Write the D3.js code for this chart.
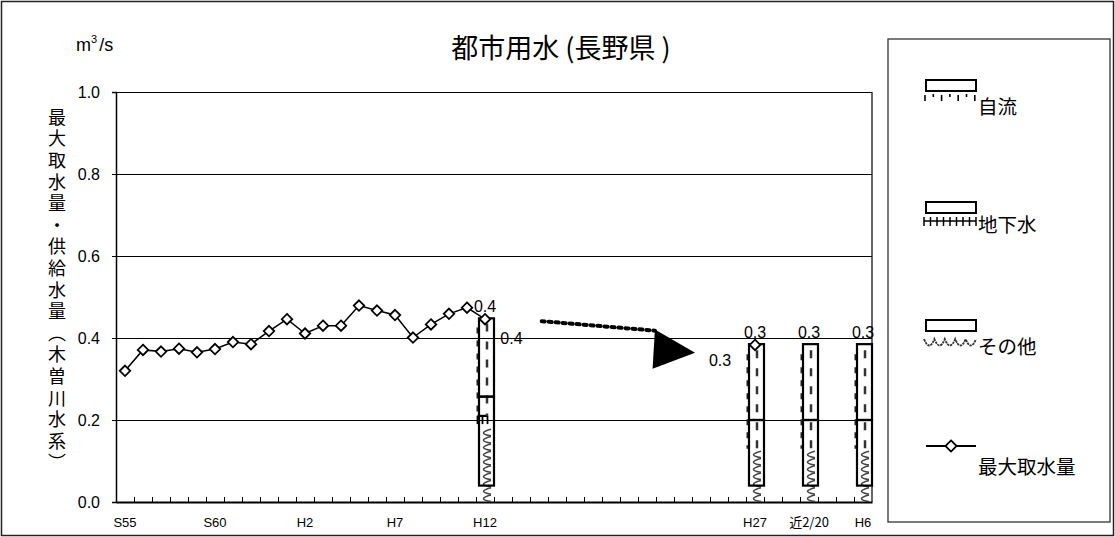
<!DOCTYPE html>
<html><head><meta charset="utf-8">
<script src="https://cdn.jsdelivr.net/npm/d3@7"></script>
<style>body{margin:0;background:#fff}</style>
</head><body><svg id="c" width="1115" height="537"></svg>
<script>
// ---------- DATA ----------
const categories = ["S55","S56","S57","S58","S59","S60","S61","S62","S63","H1","H2","H3","H4","H5","H6","H7","H8","H9","H10","H11","H12",
  "H13","H14","H15","H16","H17","H18","H19","H20","H21","H22","H23","H24","H25","H26","H27","_a","_b","近2/20","_c","_d","H6将来"];
const tickCats   = ["S55","S60","H2","H7","H12","H27","近2/20","H6将来"];
const tickLabels = ["S55","S60","H2","H7","H12","H27","近2/20","H6"];
const lineCats = ["S55","S56","S57","S58","S59","S60","S61","S62","S63","H1","H2","H3","H4","H5","H6","H7","H8","H9","H10","H11","H12"];
const maxIntake = [0.320,0.371,0.367,0.374,0.365,0.373,0.390,0.385,0.417,0.446,0.411,0.430,0.430,0.479,0.467,0.456,0.401,0.433,0.459,0.474,0.446];
const pointCats = ["H27"];
const pointVals = [0.383];
const barCats = ["H12","H27","近2/20","H6将来"];
const sonota = [0.19,0.13,0.13,0.13];     // その他
const chika  = [0.02,0.0,0.0,0.0];        // 地下水
const jiryu  = [0.24,0.255,0.255,0.255];  // 自流
const supplyBase  = [0.04,0.04,0.04,0.04];
const supplyLower = [0.217,0.16,0.16,0.16];
const supplyUpper = [0.191,0.185,0.185,0.185];
const barLabels = ["0.4","0.3","0.3","0.3"];
const yTicks = [0.0,0.2,0.4,0.6,0.8,1.0];
const arrowLine = [[23.15,0.441],[29.44,0.418]];
const arrowHead = [[29.44,0.421],[31.67,0.364],[29.31,0.325]];
const annoIdx  = [21.47,33.06];
const annoVals = [0.400,0.346];
const annoText = ["0.4","0.3"];
const yTitle = "最大取水量・供給水量（木曽川水系）";
const legendItems = ["自流","地下水","その他","最大取水量"];

// ---------- SETUP ----------
const JP = "'Noto Sans CJK JP','Noto Sans',sans-serif";
const NUM = "'Liberation Sans',Arial,sans-serif";
const svg = d3.select("#c");
const L = 116, R = 872, T = 92, B = 502;
const x = d3.scaleBand().domain(categories).range([L, R]).padding(0);
const xi = d3.scaleLinear().domain([-0.5, categories.length - 0.5]).range([L, R]);
const y = d3.scaleLinear().domain([0, 1]).range([B, T]);
const xc = c => x(c) + x.bandwidth() / 2;

// outer frame
svg.append("rect").attr("x",1.5).attr("y",1.5).attr("width",1112).attr("height",534)
  .attr("fill","none").attr("stroke","#222").attr("stroke-width",1.5);

// title
svg.append("text").attr("x",561).attr("y",58).attr("text-anchor","middle")
  .attr("font-family",JP).attr("font-size",27).text("都市用水 (長野県 )");

// unit
const u = svg.append("text").attr("x",76).attr("y",51).attr("font-family",NUM).attr("font-size",18);
u.append("tspan").text("m");
u.append("tspan").attr("dy",-8).attr("font-size",11).text("3");
u.append("tspan").attr("dy",8).attr("dx",2).text("/s");

// y title (vertical)
svg.append("text").attr("x",57).attr("y",108)
  .style("writing-mode","vertical-rl").style("letter-spacing","3.6px")
  .attr("font-family",JP).attr("font-size",18).text(yTitle);

// gridlines
svg.append("g").selectAll("line").data(yTicks.filter(v=>v>0)).join("line")
  .attr("x1",L).attr("x2",R).attr("y1",d=>y(d)+0.5).attr("y2",d=>y(d)+0.5)
  .attr("stroke","#000").attr("stroke-width",1);

// y axis
const ya = svg.append("g").attr("transform",`translate(${L},0)`)
  .call(d3.axisLeft(y).tickValues(yTicks).tickFormat(d3.format(".1f")).tickSize(4).tickPadding(12));
ya.select(".domain").attr("stroke","#000").attr("stroke-width",1.5);
ya.selectAll("text").attr("font-family",NUM).attr("font-size",16).attr("fill","#000");

// right frame of plot
svg.append("line").attr("x1",R).attr("x2",R).attr("y1",T).attr("y2",B).attr("stroke","#000").attr("stroke-width",1.2);

// x axis
const xa = svg.append("g").attr("transform",`translate(0,${B})`)
  .call(d3.axisBottom(x).tickValues(tickCats).tickFormat((d)=>tickLabels[tickCats.indexOf(d)]).tickSize(0).tickPadding(16));
xa.select(".domain").attr("stroke","#000").attr("stroke-width",2);
xa.selectAll("text").attr("font-family",(d)=>/近/.test(d)?JP:NUM).attr("font-size",13).attr("fill","#000");
// minor ticks at category boundaries (inside)
svg.append("g").selectAll("line").data(d3.range(1, categories.length)).join("line")
  .attr("x1",d=>Math.round(xi(d-0.5))+0.5).attr("x2",d=>Math.round(xi(d-0.5))+0.5).attr("y1",B).attr("y2",B-5)
  .attr("stroke","#000").attr("stroke-width",1);

// ---------- BARS ----------
const gb = svg.append("g");
barCats.forEach((c,i)=>{
  const cx = xc(c);
  const pl = cx - 7.5;
  // その他 chevrons
  const y0 = y(0), y1 = y(sonota[i]);
  for (let yy = y0 - 3; yy > y1 + 2; yy -= 7.3) {
    gb.append("path").attr("d",`M${cx+6},${yy-4} Q${cx-9},${yy} ${cx+6},${yy+2.5}`)
      .attr("fill","none").attr("stroke","#444").attr("stroke-width",1.6);
  }
  // 地下水
  if (chika[i] > 0) {
    const ya1 = y(sonota[i] + chika[i]), ya0 = y(sonota[i]);
    gb.append("line").attr("x1",pl).attr("x2",pl+10).attr("y1",ya1).attr("y2",ya1).attr("stroke","#000").attr("stroke-width",2.2);
    [pl, pl+5, pl+10].forEach(xx=>gb.append("line").attr("x1",xx).attr("x2",xx).attr("y1",ya1).attr("y2",ya0).attr("stroke","#000").attr("stroke-width",1.8));
  }
  // 自流
  const yj0 = y(sonota[i] + chika[i]), yj1 = y(sonota[i] + chika[i] + jiryu[i]);
  gb.append("line").attr("x1",cx+2).attr("x2",cx+2).attr("y1",yj1+6).attr("y2",yj0)
    .attr("stroke","#333").attr("stroke-width",2.5).attr("stroke-dasharray","8,10");
  gb.append("line").attr("x1",pl).attr("x2",pl).attr("y1",yj1+10).attr("y2",yj0)
    .attr("stroke","#222").attr("stroke-width",2).attr("stroke-dasharray","6,7");
  // outlines
  const ol = cx - 6;
  gb.append("rect").attr("x",ol).attr("width",15)
    .attr("y",y(supplyBase[i]+supplyLower[i])).attr("height",y(supplyBase[i])-y(supplyBase[i]+supplyLower[i]))
    .attr("fill","none").attr("stroke","#000").attr("stroke-width",2.2);
  gb.append("rect").attr("x",ol).attr("width",15)
    .attr("y",y(supplyBase[i]+supplyLower[i]+supplyUpper[i])).attr("height",y(supplyBase[i]+supplyLower[i])-y(supplyBase[i]+supplyLower[i]+supplyUpper[i]))
    .attr("fill","none").attr("stroke","#000").attr("stroke-width",2.2);
  // label
  const top = supplyBase[i]+supplyLower[i]+supplyUpper[i];
  svg.append("text").attr("x",cx).attr("y",y(top)-6).attr("text-anchor","middle")
    .attr("font-family",NUM).attr("font-size",16).text(barLabels[i]);
});

// ---------- LINE ----------
const line = d3.line().x((d,i)=>xc(lineCats[i])).y(d=>y(d));
svg.append("path").attr("d",line(maxIntake)).attr("fill","none").attr("stroke","#000").attr("stroke-width",1.5);
const diamond = d3.symbol().type(d3.symbolDiamond2).size(70);
const pts = lineCats.map((c,i)=>[xc(c),y(maxIntake[i])]).concat(pointCats.map((c,i)=>[xc(c),y(pointVals[i])]));
svg.append("g").selectAll("path").data(pts).join("path")
  .attr("d",diamond).attr("transform",d=>`translate(${d[0]},${d[1]})`)
  .attr("fill","#fff").attr("stroke","#000").attr("stroke-width",1.8);

// ---------- ARROW ----------
svg.append("path").attr("d",d3.line().x(d=>xi(d[0])).y(d=>y(d[1]))(arrowLine))
  .attr("fill","none").attr("stroke","#000").attr("stroke-width",4).attr("stroke-dasharray","3,4").attr("stroke-linecap","round");
svg.append("path").attr("d",d3.line().x(d=>xi(d[0])).y(d=>y(d[1]))(arrowHead)+"Z").attr("fill","#000");
annoText.forEach((t,i)=>svg.append("text").attr("x",xi(annoIdx[i])).attr("y",y(annoVals[i])).attr("dy","0.35em")
  .attr("text-anchor","middle").attr("font-family",NUM).attr("font-size",16).text(t));

// ---------- LEGEND ----------
const lg = svg.append("g");
lg.append("rect").attr("x",888).attr("y",39).attr("width",222).attr("height",483)
  .attr("fill","none").attr("stroke","#333").attr("stroke-width",1.3);
const lx = 926, lw = 50;
const rectY = [80, 202, 320];
rectY.forEach(ry=>lg.append("rect").attr("x",lx).attr("y",ry).attr("width",lw).attr("height",11)
  .attr("fill","#fff").attr("stroke","#000").attr("stroke-width",2));
// 自流 pattern
d3.range(0,7).forEach(k=>{
  const xx = lx - 1 + k*8.3;
  lg.append("line").attr("x1",xx).attr("x2",xx).attr("y1",k%2?94:95).attr("y2",k%2?97:101)
    .attr("stroke","#000").attr("stroke-width",1.6);
});
// 地下水 pattern
lg.append("line").attr("x1",lx-2).attr("x2",lx+lw).attr("y1",221).attr("y2",221).attr("stroke","#000").attr("stroke-width",1.5);
d3.range(0,9).forEach(k=>{
  const xx = lx - 2 + k*6.5;
  lg.append("line").attr("x1",xx).attr("x2",xx).attr("y1",217).attr("y2",226).attr("stroke","#000").attr("stroke-width",1.5);
});
// その他 wave
let wd = `M${lx-2},339`;
for (let k=0;k<5;k++){ const x0 = lx-2+k*10.4; wd += ` Q${x0+5.2},352 ${x0+10.4},339`; }
lg.append("path").attr("d",wd).attr("fill","none").attr("stroke","#333").attr("stroke-width",1.8).attr("stroke-dasharray","2.5,0.8");
// 最大取水量
lg.append("line").attr("x1",lx).attr("x2",lx+lw).attr("y1",446).attr("y2",446).attr("stroke","#000").attr("stroke-width",1.8);
lg.append("path").attr("d",d3.symbol().type(d3.symbolDiamond2).size(80)).attr("transform",`translate(${lx+25},446)`)
  .attr("fill","#fff").attr("stroke","#000").attr("stroke-width",1.8);
const textY = [105, 223, 345, 465];
legendItems.forEach((t,i)=>lg.append("text").attr("x",978).attr("y",textY[i]).attr("dominant-baseline","central")
  .attr("font-family",JP).attr("font-size",19.5).text(t));
</script></body></html>
